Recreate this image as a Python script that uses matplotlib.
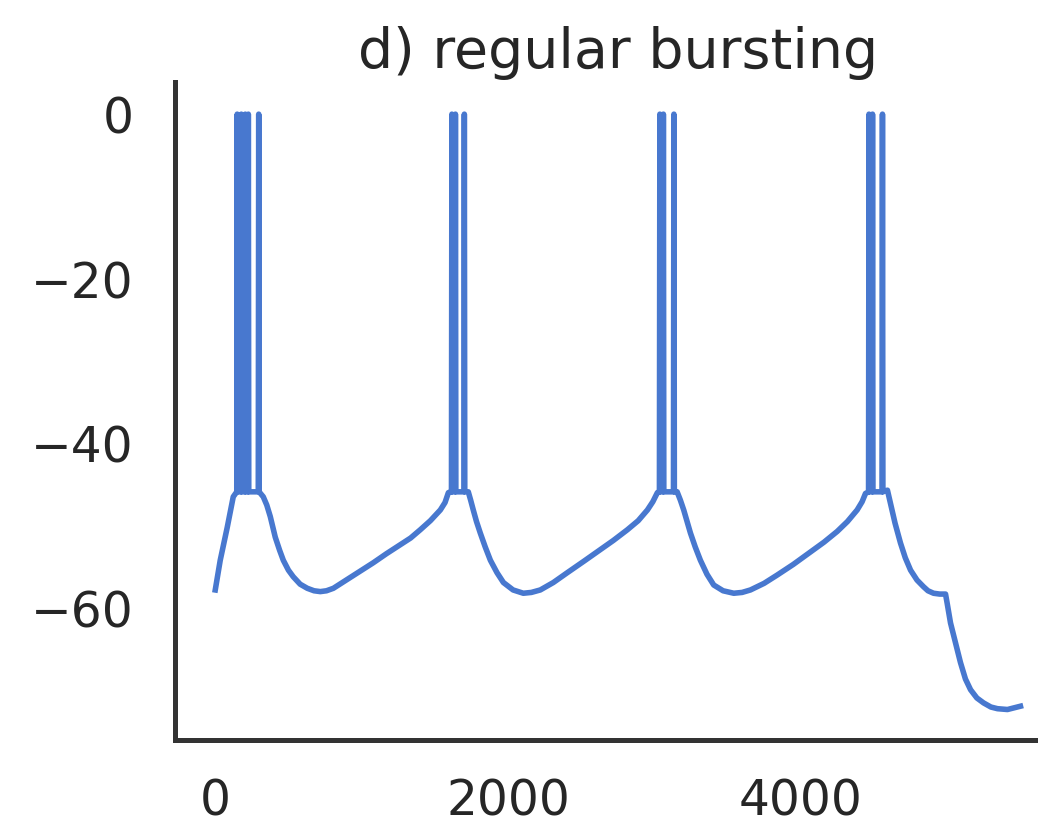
import numpy as np
import matplotlib
matplotlib.use("Agg")
import matplotlib.pyplot as plt

# subthreshold membrane potential (time in ms, voltage in mV)
t_sub = [0, 34, 82, 123,
         328, 352, 376, 410, 440, 465, 500, 533, 580, 629, 675, 718, 760, 807, 860, 923,
         1000, 1080, 1170, 1265, 1335, 1401, 1470, 1538, 1570, 1593,
         1729, 1745, 1763, 1785, 1811, 1845, 1880, 1925, 1969, 2035, 2105, 2160, 2221,
         2310, 2406, 2520, 2632, 2720, 2816, 2890, 2953, 2990, 3021,
         3156, 3178, 3201, 3224, 3247, 3280, 3315, 3360, 3406, 3470, 3543, 3600, 3657,
         3750, 3839, 3950, 4067, 4160, 4250, 4320, 4386, 4420, 4443,
         4593, 4614, 4645, 4682, 4715, 4751, 4795, 4839, 4870, 4908, 4950, 4990, 5001,
         5024, 5058, 5092, 5126, 5161, 5204, 5250, 5300, 5345, 5413, 5482, 5502]
v_sub = [-57.7, -54.1, -50.1, -46.4,
         -46.4, -47.4, -48.8, -51.3, -52.9, -54.1, -55.3, -56.1, -57.0, -57.5, -57.8, -57.9, -57.8, -57.5, -56.9, -56.2,
         -55.3, -54.4, -53.3, -52.2, -51.4, -50.4, -49.3, -48.0, -47.1, -45.9,
         -45.8, -46.8, -48.0, -49.4, -50.8, -52.5, -54.1, -55.6, -56.8, -57.7, -58.1, -58.0, -57.7,
         -56.8, -55.6, -54.2, -52.8, -51.7, -50.4, -49.3, -48.0, -47.0, -45.9,
         -45.8, -46.8, -48.0, -49.4, -50.8, -52.5, -54.1, -55.8, -57.1, -57.8, -58.1, -58.0, -57.7,
         -56.9, -55.9, -54.6, -53.1, -51.9, -50.6, -49.4, -48.0, -47.0, -46.0,
         -45.6, -47.2, -49.6, -52.0, -53.8, -55.3, -56.5, -57.3, -57.8, -58.1, -58.2, -58.2, -59.3,
         -61.7, -64.1, -66.5, -68.5, -69.8, -70.8, -71.4, -71.9, -72.1, -72.2, -71.9, -71.8]

# spike times (ms), spike peak and reset level (mV)
spike_times = [150, 178, 205, 226, 297,
               1617, 1641, 1702,
               3038, 3062, 3134,
               4467, 4491, 4559]
v_peak = 0.0
v_reset = -45.8

# merge spikes into the trace
pts = list(zip(t_sub, v_sub))
for ts in spike_times:
    pts += [(ts - 3, v_reset), (ts, v_peak), (ts + 3, v_reset)]
pts.sort()
t = np.array([p[0] for p in pts])
v = np.array([p[1] for p in pts])

plt.rcParams['font.family'] = 'DejaVu Sans'
fig = plt.figure(figsize=(10.38, 8.25), dpi=100)
ax = fig.add_axes([0.1686, 0.103, 0.853, 0.7976])

ax.plot(t, v, color='#4878CF', lw=4.0, solid_joinstyle='round')

ax.set_xlim(-275, 5775)
ax.set_ylim(-75.9, 3.9)
ax.set_xticks([0, 2000, 4000])
ax.set_yticks([0, -20, -40, -60])

for side in ['top', 'right']:
    ax.spines[side].set_visible(False)
for side in ['left', 'bottom']:
    ax.spines[side].set_linewidth(3.6)
    ax.spines[side].set_color('#333333')

ax.tick_params(axis='both', length=0, labelsize=35, colors='#262626')
ax.tick_params(axis='y', pad=30)
ax.tick_params(axis='x', pad=27)
ax.set_title('d) regular bursting', fontsize=40, color='#262626', pad=10)

fig.savefig('out.png', dpi=100)
